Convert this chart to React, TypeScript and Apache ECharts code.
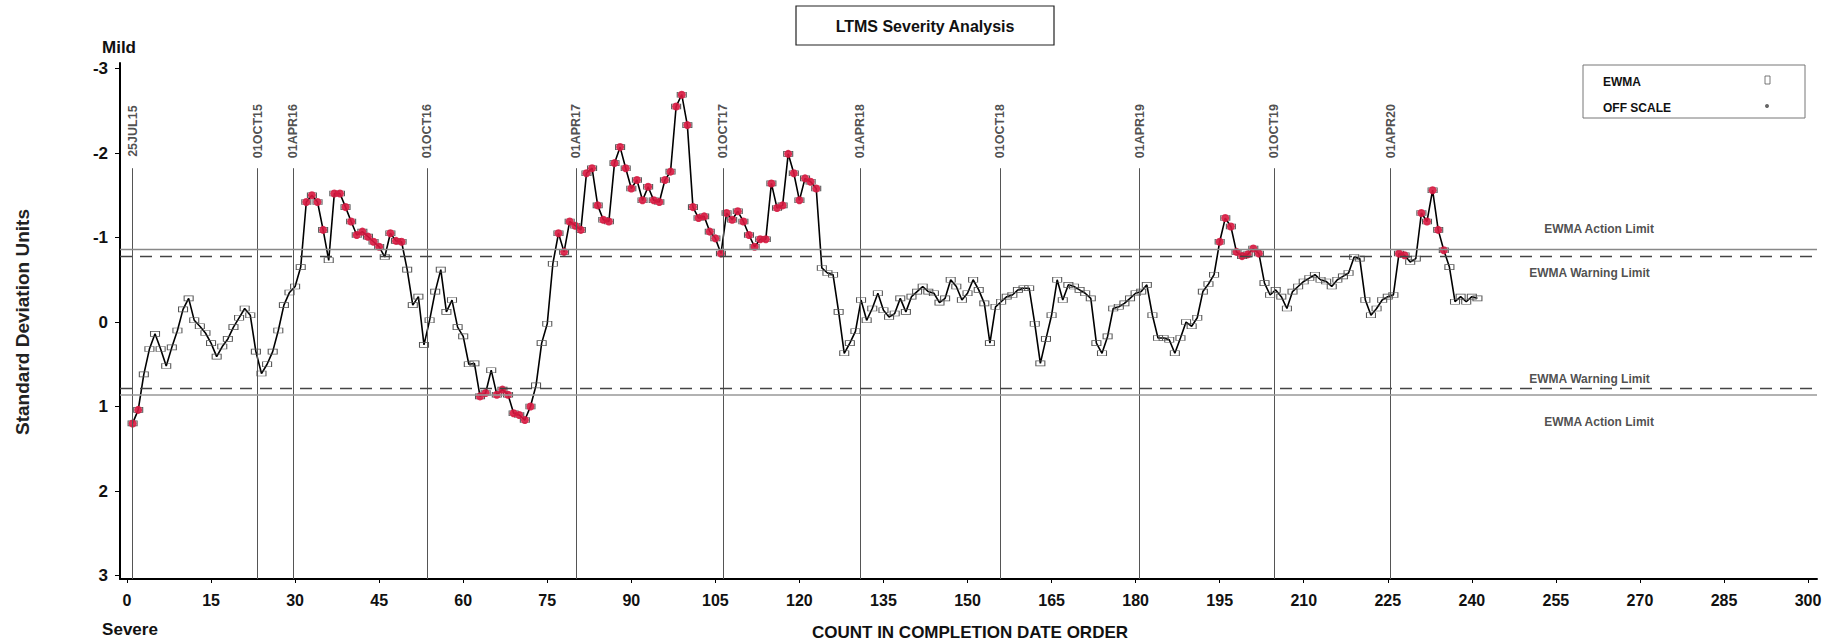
import React, { useEffect, useRef } from "react";
import * as echarts from "echarts";

const FONT = "'Liberation Sans', Arial, sans-serif";

const chartTitle = "LTMS Severity Analysis";
const xAxisTitle = "COUNT IN COMPLETION DATE ORDER";
const yAxisTitle = "Standard Deviation Units";

// EWMA values in completion-date order (count 1..241); negative = mild (top), positive = severe (bottom)
const ewma2015 = [
  1.2, 1.04, 0.62, 0.32, 0.14, 0.32, 0.52, 0.3, 0.1, -0.15,
  -0.28, -0.02, 0.05, 0.13, 0.25, 0.41, 0.29, 0.2, 0.06, -0.05,
  -0.16, -0.08, 0.35, 0.61, 0.5, 0.35, 0.1, -0.2, -0.35, -0.42,
];
const ewma2016 = [
  -0.65, -1.42, -1.5, -1.42, -1.09, -0.73, -1.52, -1.52, -1.36, -1.19,
  -1.03, -1.07, -1.01, -0.95, -0.89, -0.77, -1.05, -0.96, -0.95, -0.62,
  -0.2, -0.3, 0.27, -0.02, -0.36, -0.62, -0.12, -0.26, 0.06, 0.17,
  0.5, 0.49, 0.88, 0.84, 0.57, 0.86, 0.8, 0.86, 1.08, 1.1,
  1.16, 1.0, 0.75, 0.25, 0.02,
];
const ewma2017 = [
  -0.69, -1.05, -0.83, -1.19, -1.14, -1.09, -1.76, -1.82, -1.38, -1.21,
  -1.19, -1.88, -2.07, -1.82, -1.58, -1.68, -1.44, -1.6, -1.44, -1.42,
  -1.68, -1.78, -2.55, -2.69, -2.33, -1.36, -1.23, -1.25, -1.07, -0.99,
  -0.81, -1.29, -1.21, -1.31, -1.19, -1.03, -0.89, -0.98, -0.98, -1.64,
  -1.35, -1.38, -1.99, -1.76, -1.44, -1.7, -1.66, -1.58, -0.64, -0.58,
];
const ewma2018 = [
  -0.56, -0.12, 0.37, 0.25, 0.11, -0.26, -0.02, -0.16, -0.34, -0.14,
  -0.06, -0.1, -0.28, -0.12, -0.3, -0.36, -0.42, -0.36, -0.34, -0.23,
  -0.28, -0.5, -0.42, -0.26, -0.34, -0.5, -0.38, -0.22, 0.25, -0.18,
  -0.24, -0.3, -0.32, -0.38, -0.4, -0.4, 0.02, 0.49, 0.2, -0.08,
  -0.5, -0.26, -0.44, -0.42, -0.38, -0.34, -0.28, 0.25, 0.37, 0.17,
];
const ewma2019 = [
  -0.16, -0.18, -0.22, -0.28, -0.34, -0.36, -0.44, -0.08, 0.19, 0.19,
  0.21, 0.37, 0.19, 0.0, 0.05, -0.05, -0.36, -0.45, -0.56, -0.95,
  -1.23, -1.13, -0.83, -0.78, -0.8, -0.87, -0.81, -0.46, -0.32, -0.38,
  -0.3, -0.16, -0.36, -0.42, -0.48, -0.52, -0.56, -0.5, -0.48, -0.42,
  -0.5, -0.54, -0.58, -0.77, -0.75, -0.26, -0.08, -0.16, -0.26, -0.3,
];
const ewma2020 = [
  -0.32, -0.81, -0.79, -0.71, -0.75, -1.29, -1.19, -1.56, -1.09, -0.85,
  -0.65, -0.24, -0.3, -0.24, -0.3, -0.28,
];
const ewma = [...ewma2015, ...ewma2016, ...ewma2017, ...ewma2018, ...ewma2019, ...ewma2020];
const counts = ewma.map((_, i) => i + 1);

const dateLabels = ["25JUL15", "01OCT15", "01APR16", "01OCT16", "01APR17", "01OCT17", "01APR18", "01OCT18", "01APR19", "01OCT19", "01APR20"];
const dateCounts = [1, 23.3, 29.6, 53.6, 80.1, 106.4, 130.9, 155.8, 180.7, 204.7, 225.5];

const actionLimit = 0.86;
const warningLimit = 0.78;

const limitNoteText = ["EWMA Action Limit", "EWMA Warning Limit", "EWMA Warning Limit", "EWMA Action Limit"];
const limitNoteX = [262.7, 261, 261, 262.7];
const limitNoteY = [-1.1, -0.58, 0.67, 1.18];

const xTicks = [0, 15, 30, 45, 60, 75, 90, 105, 120, 135, 150, 165, 180, 195, 210, 225, 240, 255, 270, 285, 300];
const yTicks = [-3, -2, -1, 0, 1, 2, 3];

const X_MIN = -1.25;
const X_MAX = 301.6;
const Y_MIN = -3.065;
const Y_MAX = 3.041;
const DATE_LINE_TOP = -1.82;
const DATE_LABEL_Y = -2.33;

export default function App() {
  const ref = useRef<HTMLDivElement>(null);

  useEffect(() => {
    document.body.style.margin = "0";
    const chart = echarts.init(ref.current as HTMLDivElement, null, { renderer: "svg" });

    const lineData = counts.map((c, i) => [c, ewma[i]]);
    const offData = lineData.filter((p) => Math.abs(p[1]) >= warningLimit);

    const option: any = {
      animation: false,
      backgroundColor: "#fff",
      textStyle: { fontFamily: FONT },
      grid: { left: 120, right: 9, top: 63, bottom: 63, containLabel: false },
      xAxis: {
        type: "value",
        min: X_MIN,
        max: X_MAX,
        axisLine: { show: true, onZero: false, lineStyle: { color: "#000", width: 2 } },
        axisTick: { show: true, customValues: xTicks, length: 4, lineStyle: { color: "#000" } },
        axisLabel: { show: true, customValues: xTicks, margin: 13, fontSize: 16, fontWeight: "bold", color: "#111", fontFamily: FONT },
        splitLine: { show: false },
      },
      yAxis: {
        type: "value",
        inverse: true,
        min: Y_MIN,
        max: Y_MAX,
        axisLine: { show: true, onZero: false, lineStyle: { color: "#000", width: 2 } },
        axisTick: { show: true, customValues: yTicks, length: 5, lineStyle: { color: "#000" } },
        axisLabel: { show: true, customValues: yTicks, margin: 12, fontSize: 17, fontWeight: "bold", color: "#111", fontFamily: FONT },
        splitLine: { show: false },
      },
      series: [
        {
          name: "dates",
          type: "scatter",
          symbolSize: 0,
          silent: true,
          z: 1,
          data: dateCounts.map((c, i) => ({ value: [c, DATE_LABEL_Y], name: dateLabels[i] })),
          label: {
            show: true,
            formatter: "{b}",
            position: "inside",
            rotate: 90,
            offset: [-6, 0],
            fontSize: 12.5,
            fontWeight: "bold",
            color: "#222",
            fontFamily: FONT,
          },
          markLine: {
            silent: true,
            symbol: "none",
            label: { show: false },
            lineStyle: { color: "#555", width: 1, type: "solid" },
            data: dateCounts.map((c) => [{ coord: [c, DATE_LINE_TOP] }, { coord: [c, Y_MAX] }]),
          },
        },
        {
          name: "limits",
          type: "scatter",
          symbolSize: 0,
          silent: true,
          z: 1,
          data: limitNoteText.map((t, i) => ({ value: [limitNoteX[i], limitNoteY[i]], name: t })),
          label: {
            show: true,
            formatter: "{b}",
            position: "inside",
            fontSize: 12,
            fontWeight: "bold",
            color: "#222",
            fontFamily: FONT,
          },
          markLine: {
            silent: true,
            symbol: "none",
            label: { show: false },
            data: [
              { yAxis: -actionLimit, lineStyle: { type: "solid", color: "#888", width: 1.3 } },
              { yAxis: -warningLimit, lineStyle: { type: [12, 8], color: "#444", width: 1.3 } },
              { yAxis: warningLimit, lineStyle: { type: [12, 8], color: "#444", width: 1.3 } },
              { yAxis: actionLimit, lineStyle: { type: "solid", color: "#999", width: 1.6 } },
            ],
          },
        },
        {
          name: "EWMA",
          type: "line",
          data: lineData,
          symbol: "rect",
          symbolSize: [9, 5],
          showAllSymbol: true,
          z: 3,
          itemStyle: { color: "rgba(255,255,255,0)", borderColor: "#555", borderWidth: 0.8 },
          lineStyle: { color: "#000", width: 1.6 },
        },
        {
          name: "OFF SCALE",
          type: "scatter",
          data: offData,
          symbol: "circle",
          symbolSize: 8,
          z: 4,
          itemStyle: { color: "#d8173f", opacity: 0.9 },
        },
      ],
      graphic: [
        {
          type: "rect",
          shape: { x: 796, y: 6, width: 258, height: 39 },
          style: { fill: "#fff", stroke: "#222", lineWidth: 1.2 },
        },
        {
          type: "text",
          x: 925,
          y: 26,
          style: { text: chartTitle, fontSize: 16, fontWeight: "bold", fill: "#111", align: "center", verticalAlign: "middle", fontFamily: FONT },
        },
        {
          type: "rect",
          shape: { x: 1583, y: 65, width: 222, height: 53 },
          style: { fill: "#fff", stroke: "#777", lineWidth: 1 },
        },
        {
          type: "text",
          x: 1603,
          y: 82,
          style: { text: "EWMA", fontSize: 12, fontWeight: "bold", fill: "#111", align: "left", verticalAlign: "middle", fontFamily: FONT },
        },
        {
          type: "text",
          x: 1603,
          y: 108,
          style: { text: "OFF SCALE", fontSize: 12, fontWeight: "bold", fill: "#111", align: "left", verticalAlign: "middle", fontFamily: FONT },
        },
        {
          type: "rect",
          shape: { x: 1765, y: 76, width: 5, height: 8 },
          style: { fill: "none", stroke: "#555", lineWidth: 0.8 },
        },
        {
          type: "circle",
          shape: { cx: 1767, cy: 106, r: 2 },
          style: { fill: "#666" },
        },
        {
          type: "text",
          x: 119,
          y: 47,
          style: { text: "Mild", fontSize: 17, fontWeight: "bold", fill: "#111", align: "center", verticalAlign: "middle", fontFamily: FONT },
        },
        {
          type: "text",
          x: 130,
          y: 629,
          style: { text: "Severe", fontSize: 17, fontWeight: "bold", fill: "#111", align: "center", verticalAlign: "middle", fontFamily: FONT },
        },
        {
          type: "text",
          x: 970,
          y: 632,
          style: { text: xAxisTitle, fontSize: 17, fontWeight: "bold", fill: "#111", align: "center", verticalAlign: "middle", fontFamily: FONT },
        },
        {
          type: "text",
          x: 22,
          y: 322,
          rotation: Math.PI / 2,
          style: { text: yAxisTitle, fontSize: 19, fontWeight: "bold", fill: "#222", align: "center", verticalAlign: "middle", fontFamily: FONT },
        },
      ],
    };

    chart.setOption(option);
    return () => chart.dispose();
  }, []);

  return <div ref={ref} style={{ width: 1826, height: 642 }} />;
}
